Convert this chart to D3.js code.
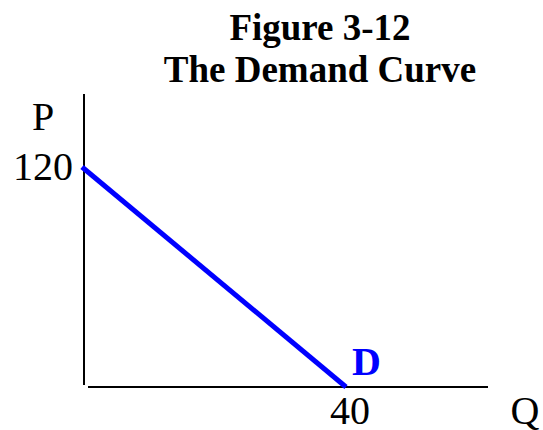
<!DOCTYPE html>
<html>
<head>
<meta charset="utf-8">
<script src="https://cdn.jsdelivr.net/npm/d3@7"></script>
<style>
  body { margin: 0; background: #fff; }
  text { font-family: "Liberation Serif", "Times New Roman", serif; }
</style>
</head>
<body>
<svg id="chart" width="543" height="430"></svg>
<script>
// data
const titleLines = ['Figure 3-12', 'The Demand Curve'];
const demandQ = [0, 40];
const demandP = [120, 0];
const priceTicks = [120];
const qtyTicks = [40];
const curveLabel = 'D';

const svg = d3.select('#chart');

// scales
const xScale = d3.scaleLinear().domain([0, 40]).range([82, 346]);
const yScale = d3.scaleLinear().domain([0, 120]).range([387, 167]);

// title
svg.selectAll('.title')
    .data(titleLines)
    .enter()
    .append('text')
        .classed('title', true)
        .attr('x', 320)
        .attr('y', (d, i) => 40 + i * 42)
        .attr('text-anchor', 'middle')
        .attr('font-weight', 'bold')
        .attr('font-size', 37)
        .text(d => d);

// axes (plain lines)
svg.append('line')
    .attr('x1', 84).attr('x2', 84)
    .attr('y1', 94).attr('y2', 385)
    .attr('stroke', '#000')
    .attr('stroke-width', 2);

svg.append('line')
    .attr('x1', 88).attr('x2', 488)
    .attr('y1', 387).attr('y2', 387)
    .attr('stroke', '#000')
    .attr('stroke-width', 2);

// axis labels
svg.append('text')
    .attr('x', 43).attr('y', 130)
    .attr('text-anchor', 'middle')
    .attr('font-size', 40)
    .text('P');

svg.append('text')
    .attr('x', 525).attr('y', 424)
    .attr('text-anchor', 'middle')
    .attr('font-size', 40)
    .text('Q');

// tick labels
svg.selectAll('.ptick')
    .data(priceTicks)
    .enter()
    .append('text')
        .classed('ptick', true)
        .attr('x', 73)
        .attr('y', d => yScale(d) + 13)
        .attr('text-anchor', 'end')
        .attr('font-size', 40)
        .text(d => d);

svg.selectAll('.qtick')
    .data(qtyTicks)
    .enter()
    .append('text')
        .classed('qtick', true)
        .attr('x', d => xScale(d) + 4)
        .attr('y', 424)
        .attr('text-anchor', 'middle')
        .attr('font-size', 40)
        .text(d => d);

// demand curve
const demand = demandQ.map((q, i) => ({q: q, p: demandP[i]}));

const line = d3.line()
    .x(d => xScale(d.q))
    .y(d => yScale(d.p));

svg.append('path')
    .datum(demand)
    .attr('d', line)
    .attr('fill', 'none')
    .attr('stroke', '#0000ff')
    .attr('stroke-width', 5);

svg.append('text')
    .attr('x', xScale(40) + 6)
    .attr('y', 375)
    .attr('font-size', 40)
    .attr('font-weight', 'bold')
    .attr('fill', '#0000ff')
    .text(curveLabel);
</script>
</body>
</html>
